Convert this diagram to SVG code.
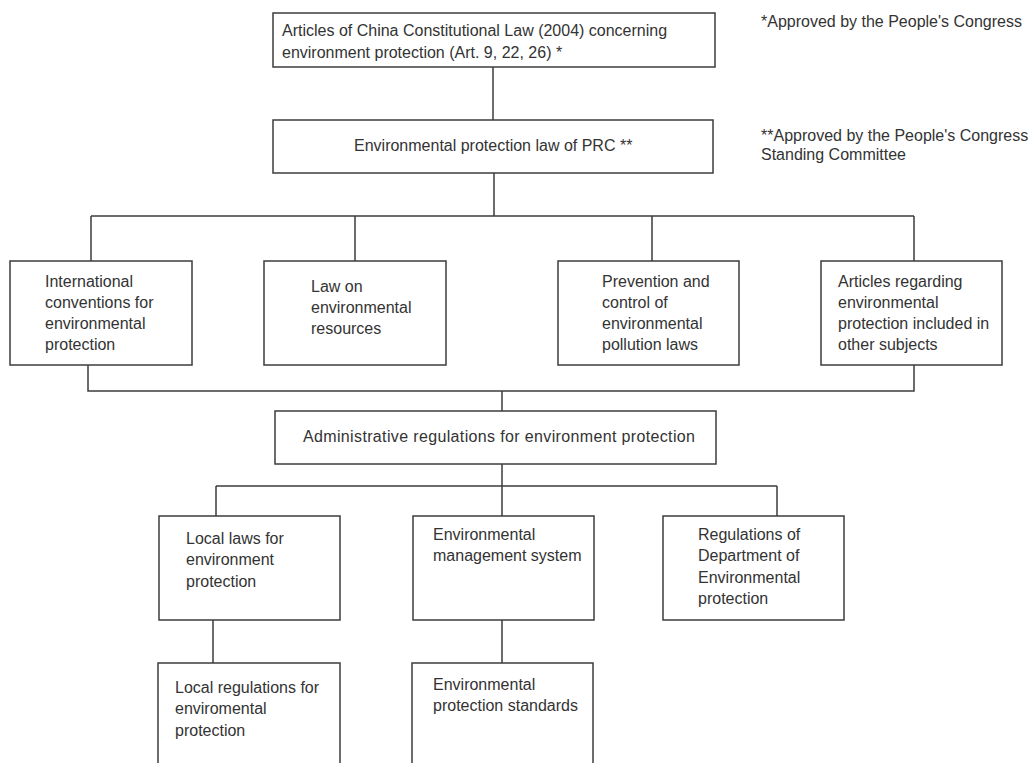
<svg xmlns="http://www.w3.org/2000/svg" width="1034" height="763" viewBox="0 0 1034 763">
<style>
.box{fill:#fff;stroke:#3c3c3c;stroke-width:1.5}
.ln{fill:none;stroke:#3c3c3c;stroke-width:1.5}
text{font-family:"Liberation Sans",Arial,sans-serif;font-size:16px;fill:#333}
</style>
<rect width="1034" height="763" fill="#fff"/>
<g id="connectors" class="ln">
<path d="M493,67V120"/>
<path d="M494,173V216M91,216H914M91,216V261M355,216V261M652,216V261M914,216V261"/>
<path d="M88,365V391H914V365M502,391V411"/>
<path d="M502,464V486M216,486H777M216,486V516M502,486V516M777,486V516"/>
<path d="M213,620V663M502,620V663"/>
</g>
<g id="constitution"><rect class="box" x="273" y="13" width="442" height="54"/><text x="282" y="36">Articles of China Constitutional Law (2004) concerning</text><text x="282" y="58">environment protection (Art. 9, 22, 26) *</text></g>
<g id="eplaw"><rect class="box" x="273" y="120" width="440" height="53"/><text x="354" y="151">Environmental protection law of PRC **</text></g>
<g id="note1"><text x="761" y="27">*Approved by the People's Congress</text></g>
<g id="note2"><text x="761" y="141">**Approved by the People's Congress</text><text x="761" y="160">Standing Committee</text></g>
<g id="intl"><rect class="box" x="10" y="261" width="182" height="104"/><text x="45" y="287">International</text><text x="45" y="308">conventions for</text><text x="45" y="329">environmental</text><text x="45" y="350">protection</text></g>
<g id="resources"><rect class="box" x="264" y="261" width="182" height="104"/><text x="311" y="292">Law on</text><text x="311" y="313">environmental</text><text x="311" y="334">resources</text></g>
<g id="pollution"><rect class="box" x="558" y="261" width="181" height="104"/><text x="602" y="287">Prevention and</text><text x="602" y="308">control of</text><text x="602" y="329">environmental</text><text x="602" y="350">pollution laws</text></g>
<g id="articles"><rect class="box" x="821" y="261" width="181" height="104"/><text x="838" y="287">Articles regarding</text><text x="838" y="308">environmental</text><text x="838" y="329">protection included in</text><text x="838" y="350">other subjects</text></g>
<g id="admin"><rect class="box" x="275" y="411" width="441" height="53"/><text x="303" y="442" textLength="392">Administrative regulations for environment protection</text></g>
<g id="locallaws"><rect class="box" x="159" y="516" width="181" height="104"/><text x="186" y="544">Local laws for</text><text x="186" y="565">environment</text><text x="186" y="587">protection</text></g>
<g id="ems"><rect class="box" x="413" y="516" width="181" height="104"/><text x="433" y="540">Environmental</text><text x="433" y="561">management system</text></g>
<g id="deptregs"><rect class="box" x="663" y="516" width="181" height="104"/><text x="698" y="540">Regulations of</text><text x="698" y="561">Department of</text><text x="698" y="583">Environmental</text><text x="698" y="604">protection</text></g>
<g id="localregs"><rect class="box" x="158" y="663" width="182" height="110"/><text x="175" y="693">Local regulations for</text><text x="175" y="714">enviromental</text><text x="175" y="736">protection</text></g>
<g id="standards"><rect class="box" x="412" y="663" width="181" height="110"/><text x="433" y="690">Environmental</text><text x="433" y="711">protection standards</text></g>
</svg>
